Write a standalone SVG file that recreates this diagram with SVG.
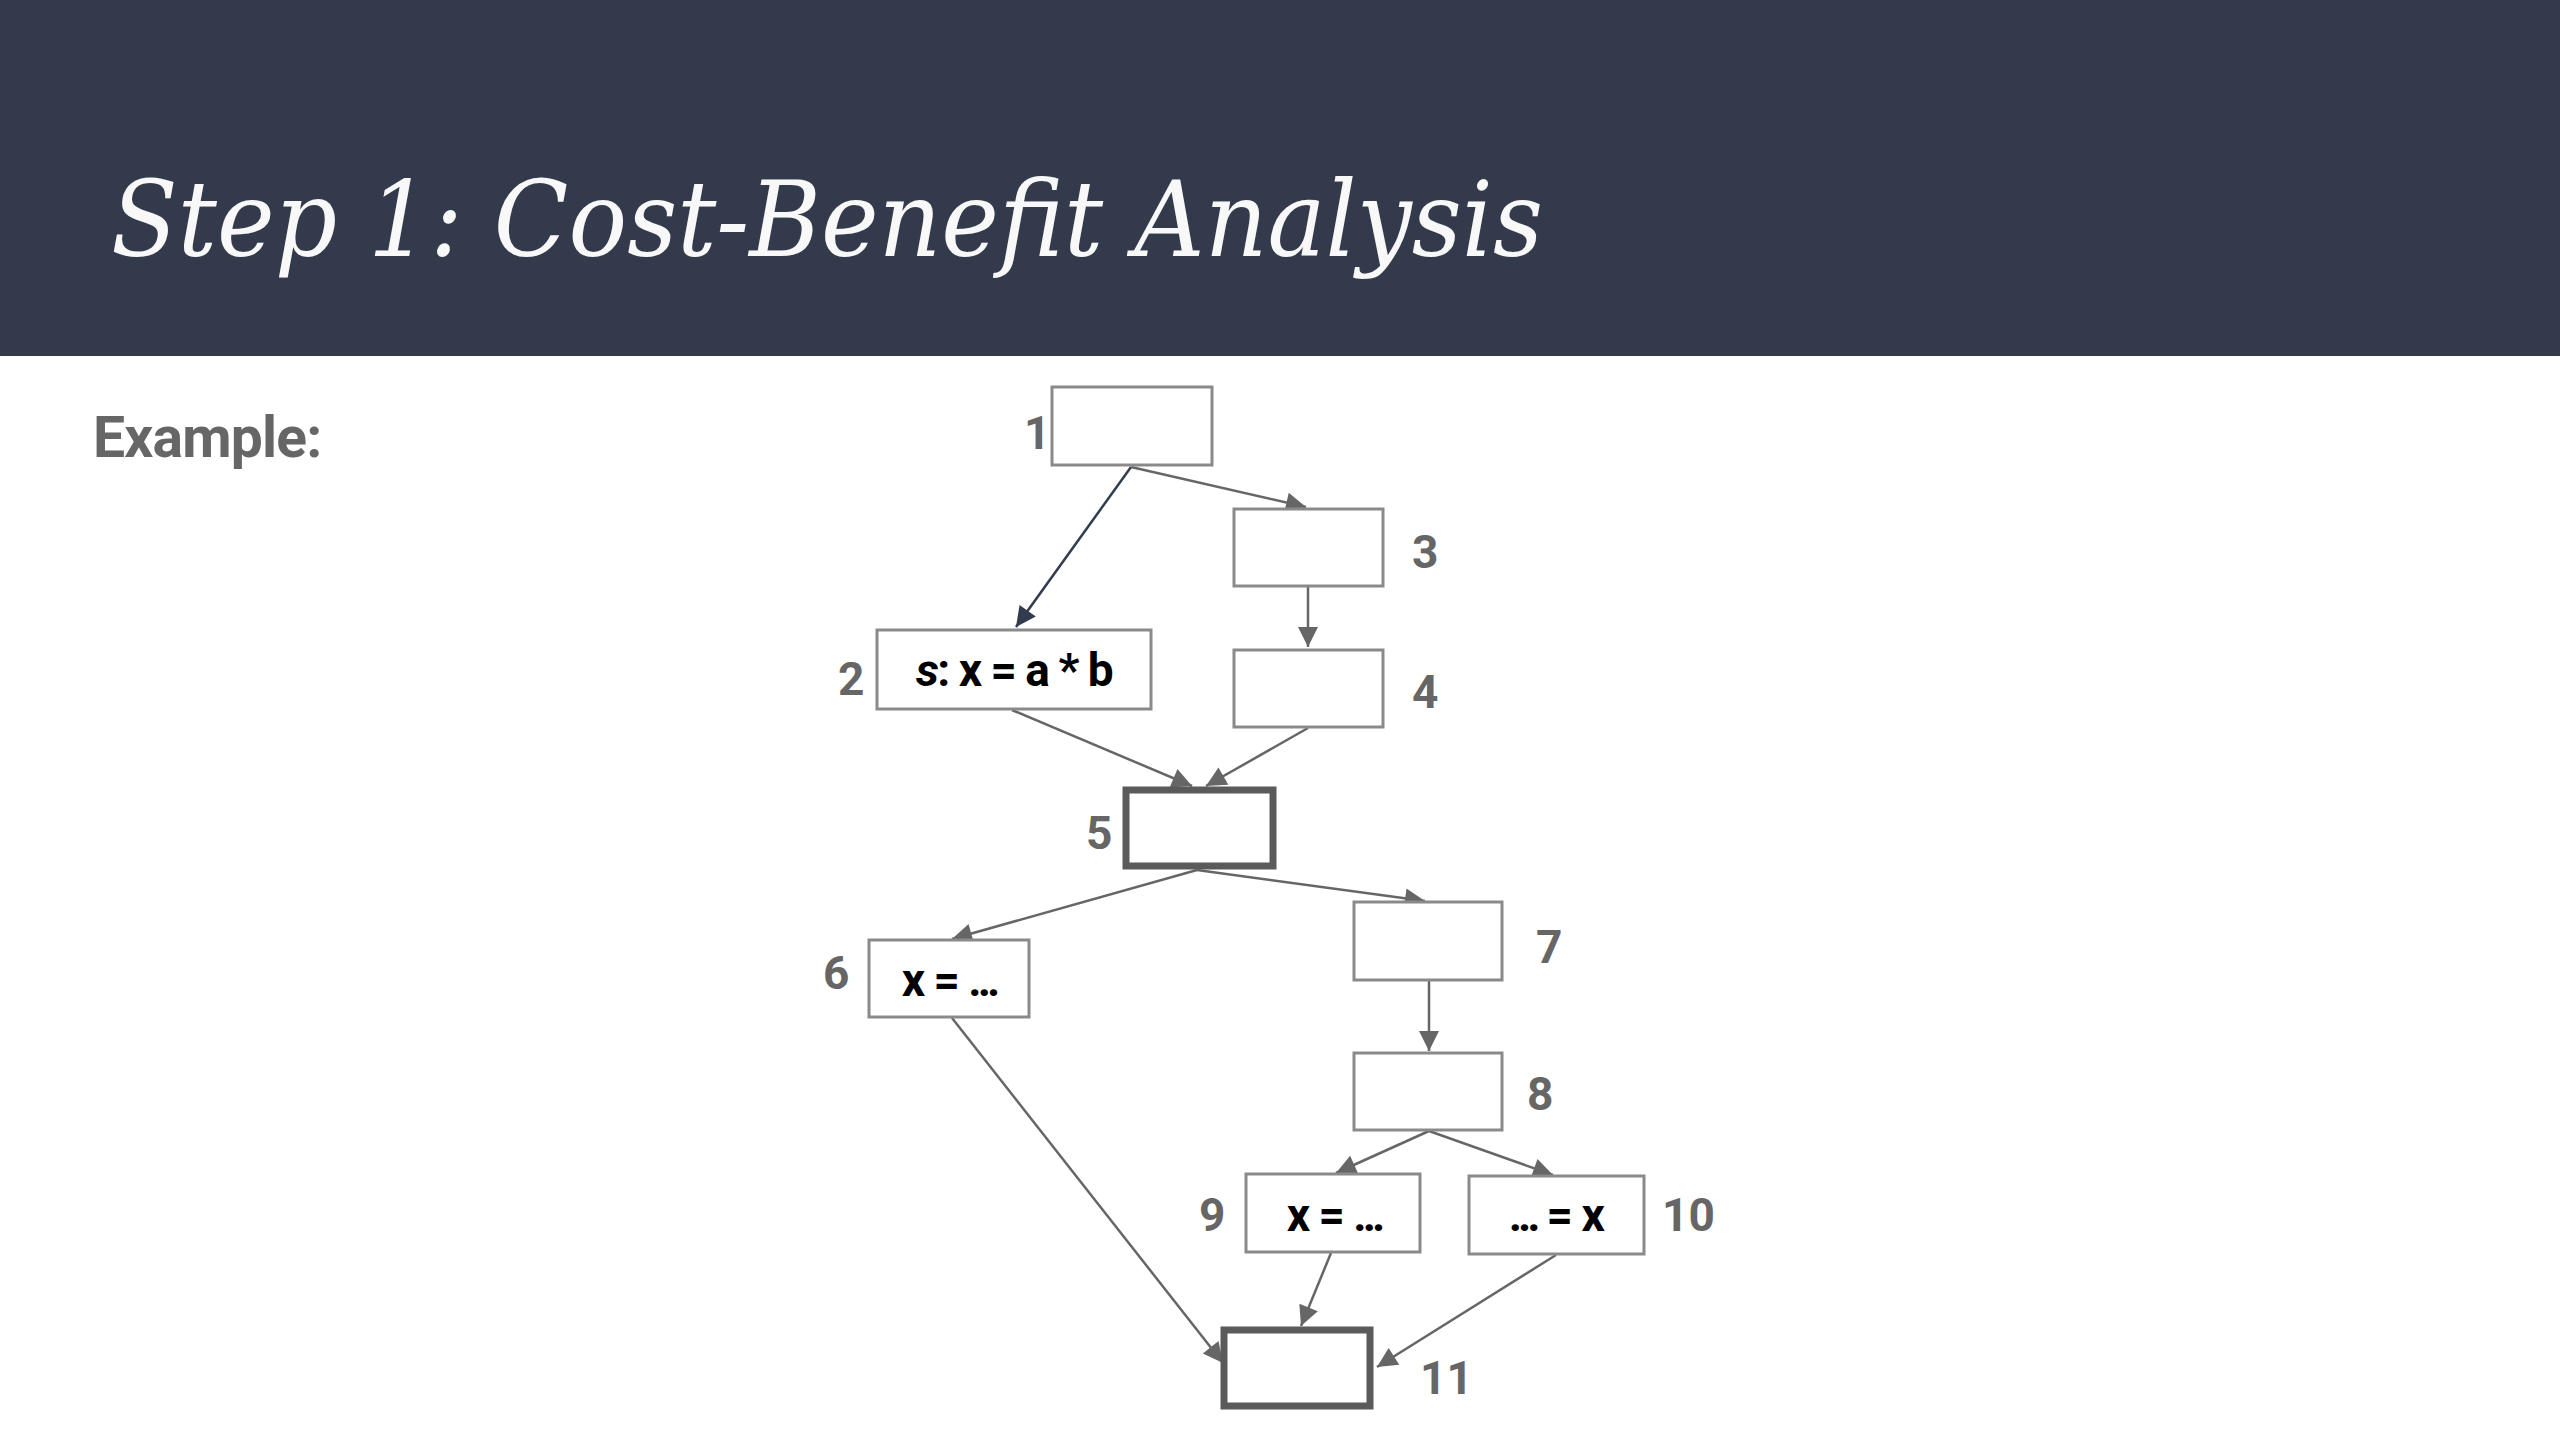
<svg xmlns="http://www.w3.org/2000/svg" width="2560" height="1440" viewBox="0 0 2560 1440">
<style>
.box{fill:#ffffff;stroke:#8a8a8a;stroke-width:3}
.thick{fill:#ffffff;stroke:#5a5a5a;stroke-width:7}
.lbl{font-family:Roboto,"Liberation Sans",sans-serif;font-weight:bold;font-size:46px;fill:#666666}
.code{font-family:Roboto,"Liberation Sans",sans-serif;font-weight:bold;font-size:46px;fill:#000000;text-anchor:middle;letter-spacing:-1.5px}
.dots{letter-spacing:-4px}
.edge{stroke:#666666;stroke-width:2.5;fill:none;marker-end:url(#ah)}
.edge.dark{stroke:#333c4f;marker-end:url(#ahd)}
</style>
<defs>
<marker id="ah" viewBox="0 0 10 10" refX="10" refY="5" markerWidth="10" markerHeight="8" markerUnits="strokeWidth" orient="auto">
<path d="M0,0 L10,5 L0,10 z" fill="#666666"/>
</marker>
<marker id="ahd" viewBox="0 0 10 10" refX="10" refY="5" markerWidth="10" markerHeight="8" markerUnits="strokeWidth" orient="auto">
<path d="M0,0 L10,5 L0,10 z" fill="#333c4f"/>
</marker>
</defs>
<rect x="0" y="0" width="2560" height="1440" fill="#ffffff"/>
<g id="header">
<rect x="0" y="0" width="2560" height="356" fill="#323a4c"/>
<text x="111" y="256" font-family="'DejaVu Serif','Liberation Serif',serif" font-style="italic" font-size="104" fill="#f8f8f8" textLength="1432" lengthAdjust="spacingAndGlyphs">Step 1: Cost-Benefit Analysis</text>
</g>
<text id="example" x="93" y="457" font-family="Roboto,'Liberation Sans',sans-serif" font-weight="bold" font-size="57" fill="#666666" letter-spacing="-0.8">Example:</text>
<g id="connectors">
<line class="edge dark" x1="1131" y1="467" x2="1016" y2="627"/>
<line class="edge" x1="1131" y1="467" x2="1306" y2="507"/>
<line class="edge" x1="1308" y1="587" x2="1308" y2="647"/>
<line class="edge" x1="1012" y1="710" x2="1192" y2="786"/>
<line class="edge" x1="1308" y1="728" x2="1206" y2="786"/>
<line class="edge" x1="1197" y1="870" x2="952" y2="939"/>
<line class="edge" x1="1197" y1="870" x2="1425" y2="901"/>
<line class="edge" x1="1429" y1="981" x2="1429" y2="1051"/>
<line class="edge" x1="1429" y1="1131" x2="1336" y2="1173"/>
<line class="edge" x1="1429" y1="1131" x2="1553" y2="1175"/>
<line class="edge" x1="952" y1="1018" x2="1223" y2="1363"/>
<line class="edge" x1="1331" y1="1253" x2="1301" y2="1326"/>
<line class="edge" x1="1556" y1="1255" x2="1377" y2="1367"/>
</g>
<g id="n1"><rect class="box" x="1052" y="387" width="160" height="78"/><text class="lbl" x="1024" y="449">1</text></g>
<g id="n3"><rect class="box" x="1234" y="509" width="149" height="77"/><text class="lbl" x="1412" y="568">3</text></g>
<g id="n2"><rect class="box" x="877" y="630" width="274" height="79"/><text class="code" x="1014" y="686"><tspan font-style="italic">s</tspan>: x = a * b</text><text class="lbl" x="838" y="695">2</text></g>
<g id="n4"><rect class="box" x="1234" y="650" width="149" height="77"/><text class="lbl" x="1412" y="708">4</text></g>
<g id="n5"><rect class="thick" x="1126" y="790" width="147" height="76"/><text class="lbl" x="1086" y="849">5</text></g>
<g id="n6"><rect class="box" x="869" y="940" width="160" height="77"/><text class="code" x="949" y="996">x = <tspan class="dots">...</tspan></text><text class="lbl" x="823" y="989">6</text></g>
<g id="n7"><rect class="box" x="1354" y="902" width="148" height="78"/><text class="lbl" x="1536" y="963">7</text></g>
<g id="n8"><rect class="box" x="1354" y="1053" width="148" height="77"/><text class="lbl" x="1527" y="1110">8</text></g>
<g id="n9"><rect class="box" x="1246" y="1174" width="174" height="78"/><text class="code" x="1334" y="1231">x = <tspan class="dots">...</tspan></text><text class="lbl" x="1199" y="1231">9</text></g>
<g id="n10"><rect class="box" x="1469" y="1176" width="175" height="78"/><text class="code" x="1556" y="1231"><tspan class="dots">...</tspan> = x</text><text class="lbl" x="1662" y="1231">10</text></g>
<g id="n11"><rect class="thick" x="1224" y="1330" width="146" height="76"/><text class="lbl" x="1420" y="1394">11</text></g>
</svg>
